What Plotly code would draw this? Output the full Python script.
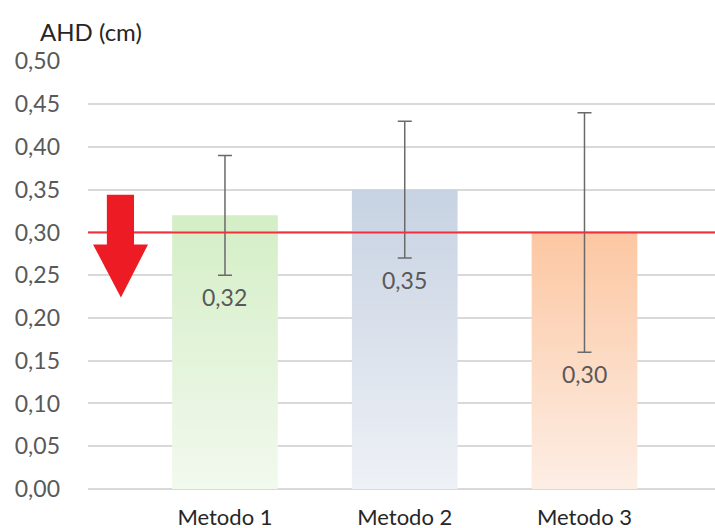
import plotly.graph_objects as go

categories = ["Metodo 1", "Metodo 2", "Metodo 3"]
means = [0.32, 0.35, 0.30]
errors = [0.07, 0.08, 0.14]
value_labels = ["0,32", "0,35", "0,30"]
top_colors = ["#d4eec6", "#c7d2e2", "#fcc7a2"]
bottom_colors = ["#f2f9ee", "#eef1f6", "#fdeee5"]
threshold = 0.30
y_ticks = [0.00, 0.05, 0.10, 0.15, 0.20, 0.25, 0.30, 0.35, 0.40, 0.45, 0.50]

FONT = "Lato"
x_pos = list(range(len(categories)))
bar_half = 0.294

fig = go.Figure()
for i, (m, ct, cb) in enumerate(zip(means, top_colors, bottom_colors)):
    fig.add_trace(go.Scatter(
        x=[i - bar_half, i + bar_half, i + bar_half, i - bar_half, i - bar_half],
        y=[0, 0, m, m, 0],
        fill="toself", mode="none",
        fillgradient=dict(type="vertical", colorscale=[[0, cb], [1, ct]], start=0, stop=m),
        showlegend=False, hoverinfo="skip",
    ))

fig.add_trace(go.Scatter(
    x=x_pos, y=means, mode="markers",
    marker=dict(size=1, opacity=0),
    error_y=dict(type="data", array=errors, symmetric=True, color="#6a6a6a", thickness=1.5, width=7),
    showlegend=False, hoverinfo="skip",
))

for i, (m, e, lab) in enumerate(zip(means, errors, value_labels)):
    fig.add_annotation(x=i, y=m - e - 0.007, text=lab, showarrow=False, yanchor="top",
                       font=dict(family=FONT, size=23, color="#595959"))

fig.add_shape(type="line", xref="paper", x0=0, x1=1, yref="y", y0=threshold, y1=threshold,
              line=dict(color="#f0303a", width=2))

fig.add_shape(type="path", xref="x", yref="y",
              path="M -0.657,0.344 L -0.506,0.344 L -0.506,0.286 L -0.428,0.286 L -0.579,0.224 "
                   "L -0.734,0.286 L -0.657,0.286 Z",
              fillcolor="#ed1c24", line=dict(width=0))

fig.add_annotation(xref="paper", yref="paper", x=-0.0797, y=1.068, xanchor="left", yanchor="middle",
                   text="AHD (cm)", showarrow=False, font=dict(family=FONT, size=24, color="#262626"))

fig.update_layout(
    width=715, height=528,
    margin=dict(l=88, r=0, t=61, b=39),
    plot_bgcolor="white", paper_bgcolor="white",
    separators=",.",
    font=dict(family=FONT),
    xaxis=dict(range=[-0.762, 2.726], tickvals=x_pos, ticktext=categories, showgrid=False,
               zeroline=False, showline=False, ticks="", ticklabelstandoff=13, automargin=False,
               tickfont=dict(family=FONT, size=22, color="#262626")),
    yaxis=dict(range=[0, 0.5005], tickvals=y_ticks, tickformat=".2f", showgrid=True,
               gridcolor="#d9d9d9", gridwidth=1.5, zeroline=True, zerolinecolor="#d9d9d9",
               zerolinewidth=1.5, ticks="", ticklabelstandoff=27, automargin=False,
               tickfont=dict(family=FONT, size=23, color="#595959")),
)

fig.write_html("out.html", config={"displayModeBar": False},
               post_script="document.body.style.margin='0px';document.body.style.overflow='hidden';")
